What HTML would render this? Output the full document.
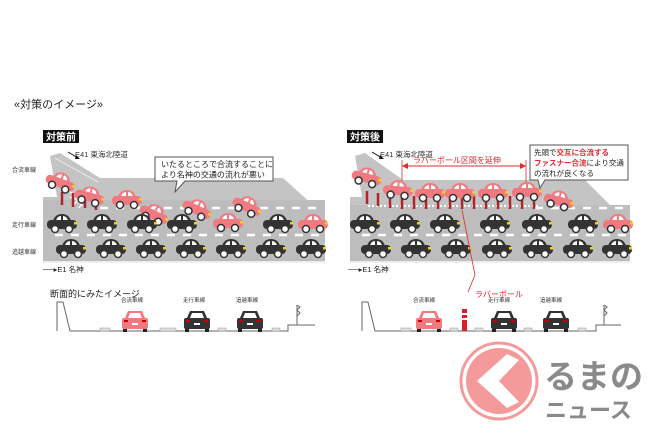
<!DOCTYPE html>
<html><head><meta charset="utf-8"><style>
html,body{margin:0;padding:0;background:#fff;}
svg{display:block;font-family:"Liberation Sans","Noto Sans CJK JP",sans-serif;}
</style></head><body>
<svg width="650" height="433" viewBox="0 0 650 433" xmlns="http://www.w3.org/2000/svg">
<defs>
<g id="bc">
<path d="M6,8 Q8,1 15,1 Q22,1 24,8 Z" fill="#333"/>
<path d="M9,8 Q10,3 14,3 L14,8 Z M16,8 L16,3 Q20,3 21,8 Z" fill="#fff"/>
<rect x="0" y="7" width="30" height="9" rx="4" fill="#333"/>
<rect x="27" y="9" width="3" height="2.5" fill="#f3d21a"/>
<circle cx="8" cy="16" r="3.5" fill="#fff" stroke="#333" stroke-width="1.5"/>
<circle cx="22" cy="16" r="3.5" fill="#fff" stroke="#333" stroke-width="1.5"/>
</g>
<g id="rc">
<path d="M6,8 Q8,1 15,1 Q22,1 24,8 Z" fill="#f07a80"/>
<path d="M9,8 Q10,3 14,3 L14,8 Z M16,8 L16,3 Q20,3 21,8 Z" fill="#fff"/>
<rect x="0" y="7" width="30" height="9" rx="4" fill="#f07a80"/>
<rect x="27" y="9" width="3" height="2.5" fill="#f3d21a"/>
<circle cx="8" cy="16" r="3.5" fill="#fff" stroke="#333" stroke-width="1.5"/>
<circle cx="22" cy="16" r="3.5" fill="#fff" stroke="#333" stroke-width="1.5"/>
</g>
<g id="rear">
<path d="M3,8 L6,1 L20,1 L23,8 Z" fill="currentColor"/>
<path d="M6,8 L8,3 L18,3 L20,8 Z" fill="#fff"/>
<rect x="0" y="8" width="26" height="11" rx="2" fill="currentColor"/>
<rect x="2" y="10" width="4" height="2" fill="#c00"/><rect x="20" y="10" width="4" height="2" fill="#c00"/>
<rect x="10" y="13" width="6" height="2" fill="#fff"/>
<rect x="1" y="19" width="4" height="3" fill="#222"/><rect x="21" y="19" width="4" height="3" fill="#222"/>
</g>
</defs>

<text x="14" y="108" font-size="11" fill="#222">«対策のイメージ»</text>

<!-- LEFT PANEL -->
<rect x="43" y="130" width="36" height="13" fill="#111"/>
<text x="46" y="140.5" font-size="10" fill="#fff" font-weight="bold">対策前</text>
<text x="75" y="157" font-size="7.5" fill="#333">E41 東海北陸道</text>
<path d="M68,152 L78,158" stroke="#111" stroke-width="1"/><path d="M76,155 L80,159 L75,159Z" fill="#111"/>
<path d="M43,262 L43,197 L57,197 L50,156 L60,153 L100,178 L283,178 L313,205 L325,205 L325,262 Z" fill="#c4c4c4"/>
<path d="M43,262 L43,200 L325,200 L325,262 Z" fill="#bdbdbd"/>
<path d="M55,158 L98,182" stroke="#eee" stroke-width="1"/>
<line x1="43" y1="262" x2="325" y2="262" stroke="#eee" stroke-width="2"/>
<g stroke="#fff" stroke-width="2.5" stroke-dasharray="8 8">
<line x1="100" y1="208" x2="320" y2="208"/>
<line x1="55" y1="235" x2="320" y2="235"/>
</g>
<g fill="none" stroke="#fff" stroke-width="1.2">
<path d="M66,186 l4,3 -4,3 M70,192 l4,3 -4,3 M74,198 l4,3 -4,3 M78,202 l4,3 -4,3"/>
</g>
<g stroke="#b2232a" stroke-width="2.5">
<line x1="62" y1="192" x2="62" y2="205"/><line x1="73" y1="193" x2="73" y2="207"/>
<line x1="85" y1="195" x2="85" y2="208"/><line x1="96" y1="196" x2="96" y2="210"/>
</g>
<text x="12" y="172" font-size="6" fill="#333">合流車線</text>
<text x="12" y="227" font-size="6" fill="#333">走行車線</text>
<text x="12" y="254" font-size="6" fill="#333">追越車線</text>
<text x="43" y="272" font-size="7.5" fill="#222">──▸E1 名神</text>
<!-- bubble -->
<path d="M155,157 L273,157 L273,181 L185,181 L175,192 L177,181 L155,181 Z" fill="#fff" stroke="#555" stroke-width="1"/>
<text x="161" y="167" font-size="8" fill="#222">いたるところで合流することに</text>
<text x="161" y="177.5" font-size="8" fill="#222">より名神の交通の流れが悪い</text>
<!-- cars left -->
<use href="#rc" transform="translate(50,167) rotate(20)"/>
<use href="#rc" transform="translate(78,182) rotate(15)"/>
<use href="#rc" transform="translate(112,189)"/>
<use href="#rc" transform="translate(145,198) rotate(25)"/>
<use href="#rc" transform="translate(188,193) rotate(25)"/>
<use href="#rc" transform="translate(238,190) rotate(25)"/>
<use href="#rc" transform="translate(213,212)"/>
<use href="#rc" transform="translate(298,213)"/>
<use href="#bc" x="47" y="213"/><use href="#bc" x="87" y="213"/><use href="#bc" x="127" y="213"/>
<use href="#bc" x="167" y="213"/><use href="#bc" x="263" y="213"/>
<use href="#bc" x="56" y="238"/><use href="#bc" x="96" y="238"/><use href="#bc" x="136" y="238"/>
<use href="#bc" x="176" y="238"/><use href="#bc" x="216" y="238"/><use href="#bc" x="256" y="238"/><use href="#bc" x="296" y="238"/>

<!-- RIGHT PANEL -->
<rect x="347" y="130" width="36" height="13" fill="#111"/>
<text x="350" y="140.5" font-size="10" fill="#fff" font-weight="bold">対策後</text>
<text x="380" y="157" font-size="7.5" fill="#333">E41 東海北陸道</text>
<path d="M372,152 L382,158" stroke="#111" stroke-width="1"/><path d="M380,155 L384,159 L379,159Z" fill="#111"/>
<path d="M350,262 L350,197 L362,197 L355,156 L365,153 L403,180 L585,180 L610,205 L630,205 L630,262 Z" fill="#c4c4c4"/>
<path d="M350,262 L350,205 L630,205 L630,262 Z" fill="#bdbdbd"/>
<line x1="350" y1="262" x2="630" y2="262" stroke="#eee" stroke-width="2"/>
<g stroke="#fff" stroke-width="2.5" stroke-dasharray="8 8">
<line x1="535" y1="208" x2="628" y2="208"/>
<line x1="362" y1="235" x2="628" y2="235"/>
</g>
<path d="M368,206 L540,206" stroke="#fff" stroke-width="2" stroke-dasharray="2 2"/>
<g stroke="#b2232a" stroke-width="2.5">
<line x1="367" y1="191" x2="367" y2="204"/><line x1="378" y1="193" x2="378" y2="206"/>
<line x1="390" y1="194" x2="390" y2="208"/><line x1="402" y1="194" x2="402" y2="209"/>
<line x1="414" y1="196" x2="414" y2="209"/><line x1="426" y1="196" x2="426" y2="209"/>
<line x1="438" y1="196" x2="438" y2="209"/><line x1="450" y1="196" x2="450" y2="209"/>
<line x1="462" y1="196" x2="462" y2="209"/><line x1="474" y1="196" x2="474" y2="209"/>
<line x1="486" y1="196" x2="486" y2="209"/><line x1="498" y1="196" x2="498" y2="209"/>
<line x1="510" y1="196" x2="510" y2="209"/><line x1="522" y1="196" x2="522" y2="209"/>
<line x1="534" y1="196" x2="534" y2="209"/>
</g>
<text x="348" y="272" font-size="7.5" fill="#222">──▸E1 名神</text>
<!-- red arrow -->
<line x1="404" y1="166" x2="524" y2="166" stroke="#e0282e" stroke-width="1"/>
<path d="M402,166 L408,163 L408,169Z M526,166 L520,163 L520,169Z" fill="#e0282e"/>
<line x1="402" y1="160" x2="402" y2="192" stroke="#e0282e" stroke-width="0.8"/>
<line x1="526" y1="160" x2="526" y2="192" stroke="#e0282e" stroke-width="0.8"/>
<text x="413" y="163" font-size="8" fill="#e0282e">ラバーポール区間を延伸</text>
<!-- callout -->
<path d="M530,145 L628,145 L628,180 L545,180 L540,188 L538,180 L530,180 Z" fill="#fff" stroke="#555" stroke-width="1"/>
<text x="534" y="155" font-size="7.5" fill="#222">先頭で<tspan fill="#e0282e" font-weight="bold">交互に合流する</tspan></text>
<text x="534" y="165.5" font-size="7.5" fill="#e0282e" font-weight="bold">ファスナー合流<tspan fill="#222" font-weight="normal">により交通</tspan></text>
<text x="534" y="176" font-size="7.5" fill="#222">の流れが良くなる</text>
<!-- cars right -->
<use href="#rc" transform="translate(355,163) rotate(15)"/>
<use href="#rc" transform="translate(384,178) rotate(5)"/>
<use href="#rc" x="415" y="182"/><use href="#rc" x="445" y="182"/>
<use href="#rc" x="478" y="182"/><use href="#rc" x="512" y="181"/>
<use href="#rc" transform="translate(547,186) rotate(15)"/>
<use href="#rc" x="603" y="213"/>
<use href="#bc" x="350" y="213"/><use href="#bc" x="390" y="213"/><use href="#bc" x="430" y="213"/>
<use href="#bc" x="480" y="213"/><use href="#bc" x="522" y="213"/><use href="#bc" x="568" y="213"/>
<use href="#bc" x="361" y="238"/><use href="#bc" x="401" y="238"/><use href="#bc" x="441" y="238"/>
<use href="#bc" x="482" y="238"/><use href="#bc" x="523" y="238"/><use href="#bc" x="563" y="238"/><use href="#bc" x="602" y="238"/>
<!-- pole pointer -->
<path d="M462,210 L475,275 L468,292" stroke="#e0282e" stroke-width="0.8" fill="none"/>
<text x="475" y="297" font-size="8" fill="#e0282e">ラバーポール</text>

<!-- CROSS SECTIONS -->
<text x="50" y="297" font-size="9" fill="#222">断面的にみたイメージ</text>
<g font-size="5.5" fill="#333">
<text x="121" y="302">合流車線</text><text x="183" y="302">走行車線</text><text x="236" y="302">追越車線</text>
<text x="413" y="302">合流車線</text><text x="488" y="302">走行車線</text><text x="540" y="302">追越車線</text>
</g>
<g fill="none" stroke="#666" stroke-width="1">
<path d="M57,331 L57,302 L63,302 L70,331 L288,331 L288,325 L315,325"/>
<path d="M297,325 L297,305 M297,305 l3,2 -3,3 3,3 -3,3"/>
<path d="M362,331 L362,302 L368,302 L375,331 L596,331 L596,325 L621,325"/>
<path d="M604,325 L604,305 M604,305 l3,2 -3,3 3,3 -3,3"/>
</g>
<g fill="#ddd" stroke="#999" stroke-width="0.5">
<rect x="100" y="328" width="10" height="3"/><rect x="160" y="328" width="16" height="3"/><rect x="218" y="328" width="8" height="3"/><rect x="272" y="328" width="8" height="3"/>
<rect x="401" y="328" width="10" height="3"/><rect x="450" y="328" width="8" height="3"/><rect x="475" y="328" width="8" height="3"/><rect x="524" y="328" width="8" height="3"/><rect x="578" y="328" width="8" height="3"/>
</g>
<use href="#rear" x="122" y="310" style="color:#f07a80"/>
<use href="#rear" x="184" y="310" style="color:#333"/>
<use href="#rear" x="237" y="310" style="color:#333"/>
<use href="#rear" x="416" y="310" style="color:#f07a80"/>
<use href="#rear" x="491" y="310" style="color:#333"/>
<use href="#rear" x="543" y="310" style="color:#333"/>
<rect x="462" y="309" width="5" height="22" fill="#d42028"/>
<rect x="462" y="313" width="5" height="2" fill="#fff"/><rect x="462" y="318" width="5" height="2" fill="#fff"/>

<!-- LOGO -->
<circle cx="499" cy="381" r="38" fill="none" stroke="#f59a9a" stroke-width="3"/>
<circle cx="499" cy="381" r="33" fill="#f59a9a"/>
<path d="M507,354 L519,360 L499,381 L519,402 L507,408 L477,381 Z" fill="#fff"/>
<text x="544" y="388" font-size="33" font-weight="bold" fill="#8a8a8a">るまの</text>
<text x="545" y="418" font-size="22" font-weight="bold" fill="#8a8a8a">ニュース</text>
</svg>
</body></html>
